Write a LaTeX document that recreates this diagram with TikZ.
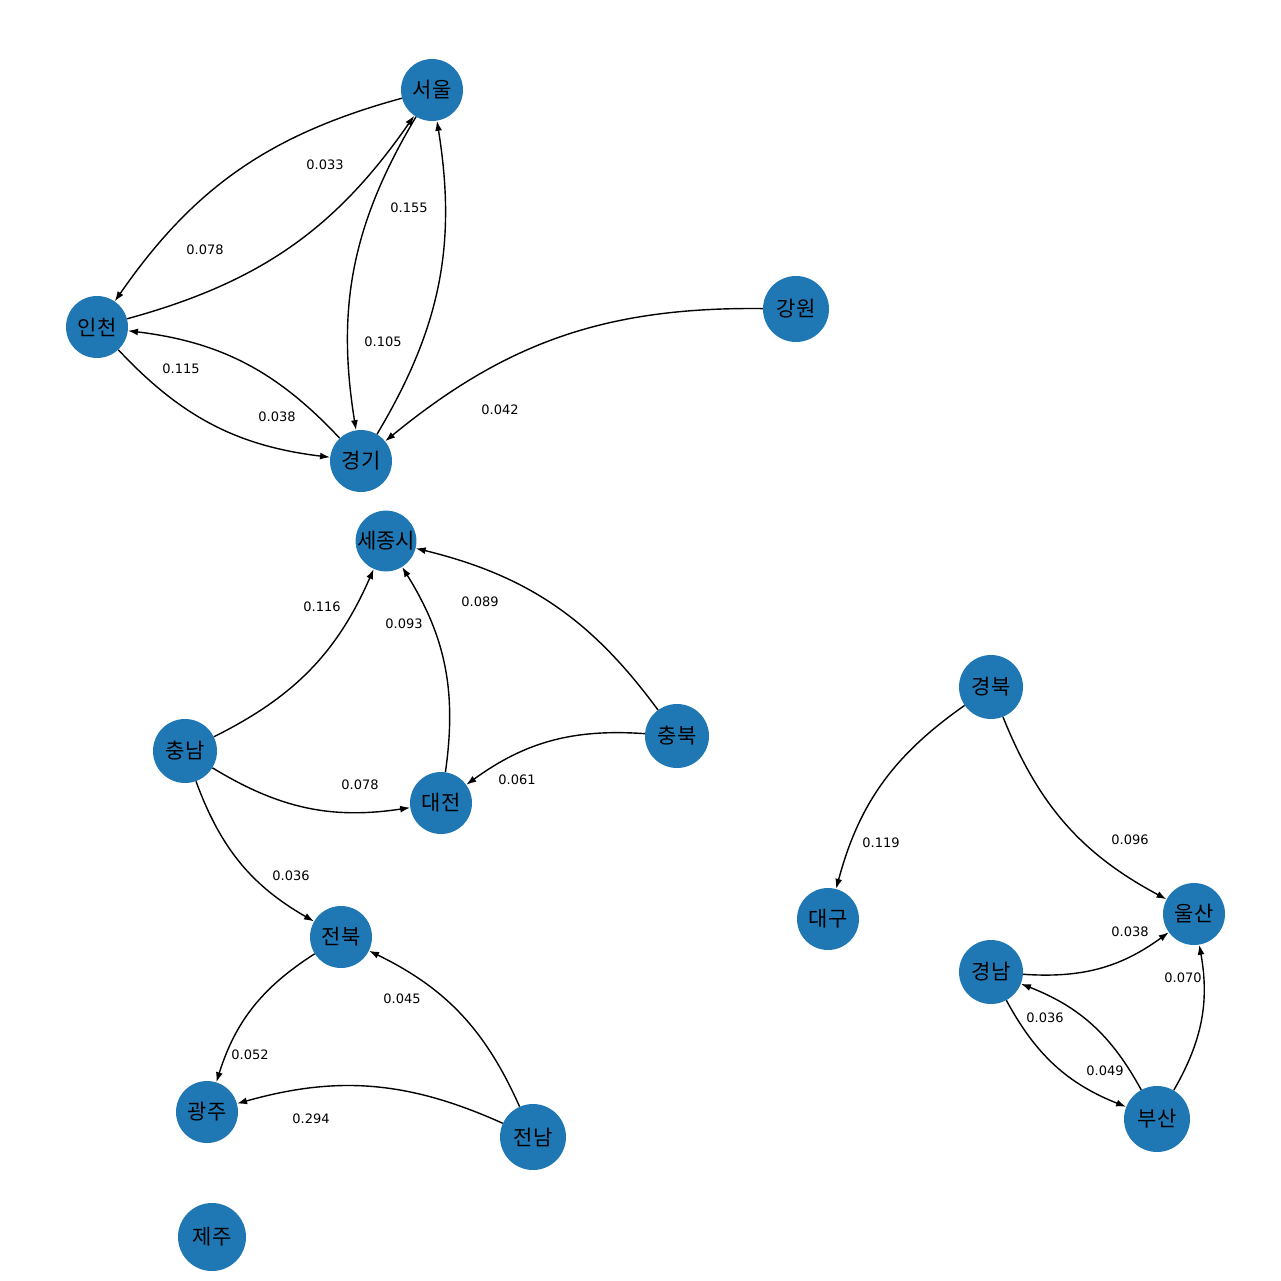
\documentclass[tikz,border=0pt]{standalone}
\usepackage{fontspec}
\setmainfont{DejaVu Sans}
\newfontfamily\kr{Noto Sans CJK KR}
\usetikzlibrary{arrows.meta}
\definecolor{nb}{HTML}{1F77B4}
\begin{document}
\begin{tikzpicture}[x=1pt,y=-1pt,
 n/.style={circle,fill=nb,minimum size=62pt,inner sep=0pt,font=\kr\fontsize{21}{21}\selectfont},
 s/.style={circle,fill=nb,minimum size=46pt,inner sep=0pt,font=\kr\fontsize{21}{21}\selectfont},
 e/.style={-{Latex[length=10pt,width=7pt]},line width=1.4pt,bend right=20},
 l/.style={font=\fontsize{13}{13}\selectfont,fill=white,inner sep=1pt}]
\useasboundingbox (0,0) rectangle (1280,1281);
\node[n] (seoul) at (432,90) {서울};
\node[n] (incheon) at (97,327) {인천};
\node[n] (gg) at (361,461) {경기};
\node[n,minimum size=66pt] (gw) at (796,309) {강원};
\node[s] (sj) at (386,541) {세종시};
\node[n,minimum size=64pt] (cn) at (185,751) {충남};
\node[n,minimum size=64pt] (cb) at (677,736) {충북};
\node[n] (dj) at (441,803) {대전};
\node[n,minimum size=64pt] (gb) at (991,687) {경북};
\node[n] (dg) at (828,919) {대구};
\node[n] (us) at (1194,914) {울산};
\node[n,minimum size=64pt] (gn) at (991,972) {경남};
\node[n,minimum size=66pt] (bs) at (1157,1119) {부산};
\node[n] (jb) at (341,937) {전북};
\node[n] (gj) at (207,1112) {광주};
\node[n,minimum size=66pt] (jn) at (533,1137) {전남};
\node[n,minimum size=68pt] (jj) at (212,1237) {제주};
\draw[e] (seoul) to (incheon);
\draw[e] (incheon) to (seoul);
\draw[e] (seoul) to (gg);
\draw[e] (gg) to (seoul);
\draw[e] (incheon) to (gg);
\draw[e] (gg) to (incheon);
\draw[e] (gw) to (gg);
\draw[e] (cn) to (sj);
\draw[e] (dj) to (sj);
\draw[e] (cb) to (sj);
\draw[e] (cb) to (dj);
\draw[e] (cn) to (dj);
\draw[e] (cn) to (jb);
\draw[e] (jb) to (gj);
\draw[e] (jn) to (gj);
\draw[e] (jn) to (jb);
\draw[e] (gb) to (dg);
\draw[e] (gb) to (us);
\draw[e] (gn) to (us);
\draw[e] (bs) to (us);
\draw[e] (bs) to (gn);
\draw[e] (gn) to (bs);
\node[l] (l1) at (325,165) {0.033};
\node[l] (l2) at (205,250) {0.078};
\node[l] (l3) at (409,208) {0.155};
\node[l] (l4) at (383,342) {0.105};
\node[l] (l5) at (181,369) {0.115};
\node[l] (l6) at (277,417) {0.038};
\node[l] (l7) at (500,410) {0.042};
\node[l] (l8) at (322,607) {0.116};
\node[l] (l9) at (404,624) {0.093};
\node[l] (l10) at (480,602) {0.089};
\node[l] (l11) at (517,780) {0.061};
\node[l] (l12) at (360,785) {0.078};
\node[l] (l13) at (291,876) {0.036};
\node[l] (l14) at (250,1055) {0.052};
\node[l] (l15) at (311,1119) {0.294};
\node[l] (l16) at (402,999) {0.045};
\node[l] (l17) at (881,843) {0.119};
\node[l] (l18) at (1130,840) {0.096};
\node[l] (l19) at (1130,932) {0.038};
\node[l] (l20) at (1183,978) {0.070};
\node[l] (l21) at (1045,1018) {0.036};
\node[l] (l22) at (1105,1071) {0.049};
\end{tikzpicture}
\end{document}
